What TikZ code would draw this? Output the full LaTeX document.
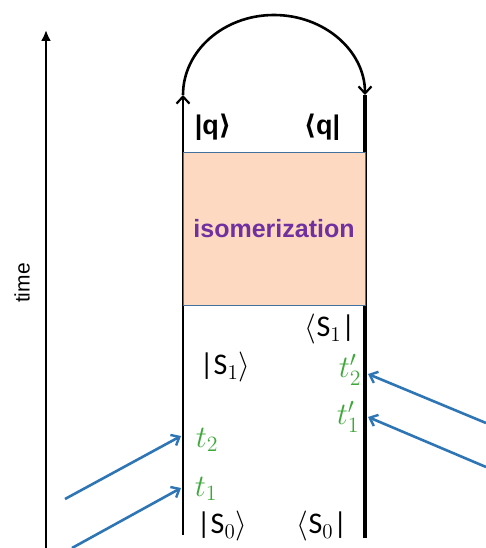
\RequirePackage{fix-cm}
\documentclass[tikz,border=0pt]{standalone}
\usepackage{fontspec}
\usepackage{graphicx}
\setmainfont{Liberation Sans}
\newfontfamily\carlito{Carlito}
\newfontfamily\djv{DejaVu Sans}
\usetikzlibrary{arrows.meta}
\definecolor{peach}{RGB}{252,217,192}
\definecolor{boxedge}{RGB}{65,113,156}
\definecolor{isopurple}{RGB}{112,48,160}
\definecolor{tgreen}{RGB}{62,168,58}
\definecolor{pblue}{RGB}{46,117,182}
\newcommand{\slab}[1]{\scalebox{1.25}{#1}}
\newcommand{\tlab}[1]{\scalebox{1.3}{#1}}
\tikzset{
  world/.style={line width=2.6pt,black},
  blk/.style={line width=3.2pt,black},
  pulse/.style={line width=2.6pt,pblue,-{Straight Barb[length=7pt,width=12pt,line width=2.4pt]}},
  openhead/.style={-{Straight Barb[length=7pt,width=13pt,line width=2.2pt]}},
  sl/.style={font=\fontsize{24}{28}\selectfont,inner sep=0pt},
  ql/.style={font=\fontsize{27}{32}\selectfont\bfseries,inner sep=0pt},
  tl/.style={font=\fontsize{24}{28}\selectfont,text=tgreen,inner sep=0pt},
}
\begin{document}
\begin{tikzpicture}[x=1pt,y=-1pt]
\useasboundingbox (0,0) rectangle (486,548);
% time axis
\coordinate (tb) at (46,548);
\coordinate (tt) at (46,30);
\draw[world,-{Latex[length=11pt,width=10pt]}] (tb) -- (tt);
\node[rotate=90,font=\fontsize{21}{24}\selectfont] (time) at (22,283) {time};
% ket line and bra line
\coordinate (L0) at (183,535);
\coordinate (L1) at (183,95);
\coordinate (R1) at (365,95);
\coordinate (R0) at (365,538);
\draw[world,openhead] (L0) -- (L1);
\draw[world,openhead] (L1) arc[start angle=180,end angle=360,x radius=91,y radius=80];
\draw[blk] (R1) -- (R0);
% isomerization box
\node[draw=boxedge,line width=1pt,fill=peach,minimum width=182pt,minimum height=152pt,inner sep=0pt,
  font=\fontsize{25}{28}\selectfont\bfseries,text=isopurple] (iso) at (274,229) {isomerization};
% labels
\node[ql] (qket) at (213,127) {|q{\djv\bfseries ⟩}};
\node[ql] (qbra) at (322,127) {{\djv\bfseries ⟨}q|};
\node[sl] (s1bra) at (330,329) {\slab{$\langle$\carlito S${}_1$|}};
\node[sl] (s1ket) at (225,367) {\slab{\carlito |S${}_1\rangle$}};
\node[sl] (s0ket) at (222,526) {\slab{\carlito |S${}_0\rangle$}};
\node[sl] (s0bra) at (322,526) {\slab{$\langle$\carlito S${}_0$|}};
\node[tl] (tp2) at (350,370) {\tlab{$t_2'$}};
\node[tl] (tp1) at (348,417) {\tlab{$t_1'$}};
\node[tl] (t2) at (207,440) {\tlab{$t_2$}};
\node[tl] (t1) at (206,489) {\tlab{$t_1$}};
% pulses
\coordinate (a1s) at (65,499);
\coordinate (a1e) at (181,436);
\coordinate (a2s) at (72,548);
\coordinate (a2e) at (181,488);
\coordinate (b1s) at (486,423);
\coordinate (b1e) at (368,374);
\coordinate (b2s) at (486,467);
\coordinate (b2e) at (368,417);
\draw[pulse] (a1s) -- (a1e);
\draw[pulse] (a2s) -- (a2e);
\draw[pulse] (b1s) -- (b1e);
\draw[pulse] (b2s) -- (b2e);
\end{tikzpicture}
\end{document}
